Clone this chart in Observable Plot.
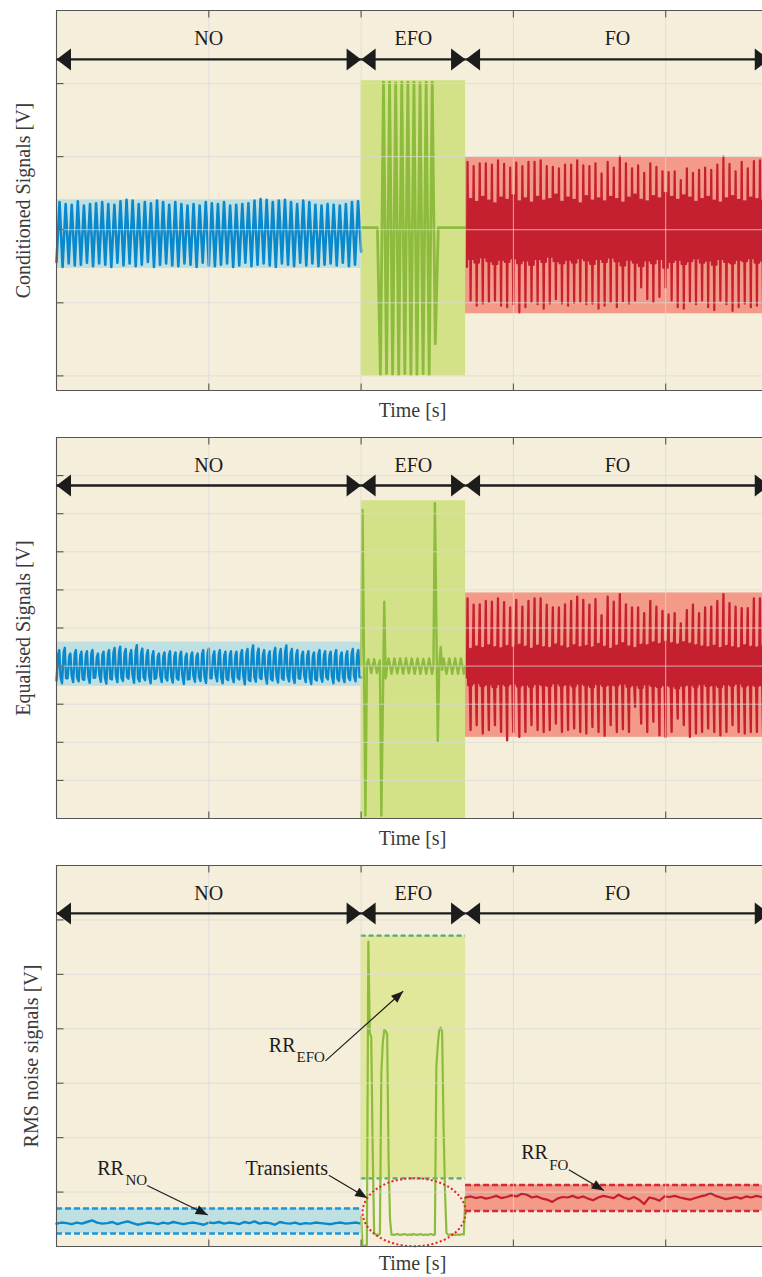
<!DOCTYPE html>
<html><head><meta charset="utf-8">
<script src="https://cdn.jsdelivr.net/npm/d3@7"></script>
<script src="https://cdn.jsdelivr.net/npm/@observablehq/plot@0.6"></script>
<style>
html,body{margin:0;padding:0;background:#fff;overflow:hidden;}
#chart{width:762px;}
#chart svg{display:block;overflow:hidden;}
</style></head><body><div id="chart"></div>
<script>
// ---------------- DATA ----------------
const phaseNames = ["NO", "EFO", "FO"];
const phaseStart = [0, 2.0, 2.686];
const phaseEnd = [2.0, 2.686, 5.0];
const arrowEnd = [2.0, 2.686, 4.68];
const xTicks = [1, 2, 3, 4];

// Panel 1 : conditioned signals
const condDomain = [-2.2, 3];
const condTicks = [-2, -1, 0, 1, 2];
const condBandLo = [-0.53, -2.0, -1.15];
const condBandHi = [0.41, 2.04, 0.99];
const condArrowY = 2.33, condLabelY = 2.61;
const condNoPeaks = [0.38,0.35,0.34,0.39,0.33,0.35,0.36,0.38,0.35,0.34,0.39,0.41,0.40,0.35,0.38,0.36,0.40,0.38,0.34,0.38,0.35,0.33,0.35,0.33,0.38,0.36,0.35,0.38,0.33,0.34,0.35,0.36,0.40,0.42,0.41,0.38,0.40,0.41,0.38,0.35,0.40,0.38,0.34,0.33,0.35,0.34,0.33,0.35,0.38,0.39];
const condNoTroughs = [-0.44,-0.51,-0.46,-0.49,-0.48,-0.45,-0.50,-0.46,-0.48,-0.51,-0.45,-0.49,-0.46,-0.50,-0.48,-0.44,-0.51,-0.48,-0.46,-0.49,-0.50,-0.46,-0.48,-0.51,-0.45,-0.49,-0.50,-0.48,-0.46,-0.51,-0.49,-0.45,-0.50,-0.48,-0.46,-0.49,-0.51,-0.46,-0.48,-0.50,-0.45,-0.49,-0.46,-0.50,-0.48,-0.46,-0.49,-0.45,-0.50,-0.48,-0.30];
const condEfoV = [0.03,0.03,0.03,0.03,0.03,0.03,-1.98,2.02,-1.97,2.02,-1.98,2.01,-1.98,2.02,-1.97,2.02,-1.98,2.02,-1.98,2.01,-1.97,2.02,-1.98,2.02,-1.56,0.03,0.03,0.03,0.03,0.03,0.03,0.03,0.03,0.03,0.03];
const condFoStart = -0.51;
const condFoPeaks = [0.93,0.87,0.91,0.91,0.89,0.95,0.90,0.85,0.92,0.87,0.93,0.93,0.95,0.87,0.86,0.84,0.89,0.89,0.95,0.88,0.87,0.91,0.77,0.93,0.85,1.00,0.91,0.84,0.88,0.78,0.91,0.86,0.80,0.79,0.80,0.68,0.84,0.78,0.82,0.85,0.82,0.89,1.00,0.90,0.80,0.93,0.84,0.94,0.95];
const condFoTroughs = [-0.97,-1.04,-1.01,-0.99,-0.97,-1.04,-1.06,-1.02,-1.13,-1.06,-0.99,-1.02,-1.08,-1.01,-0.95,-1.01,-1.04,-1.00,-0.99,-1.02,-1.01,-1.08,-1.04,-0.99,-1.06,-0.98,-1.01,-0.97,-0.79,-0.95,-0.99,-0.92,-0.79,-0.97,-1.06,-1.08,-0.99,-1.02,-0.97,-1.06,-1.10,-0.97,-1.02,-1.11,-1.06,-1.01,-1.06,-1.04,-1.06];
const condFoCoreHi = [0.42,0.38,0.45,0.40,0.36,0.44,0.41,0.47,0.39,0.43,0.37,0.45,0.40,0.42,0.48,0.38,0.44,0.41,0.36,0.46,0.40,0.43,0.39,0.45,0.42,0.37,0.44,0.48,0.41,0.39,0.46,0.43,0.50,0.45,0.41,0.47,0.44,0.38,0.42,0.45,0.40,0.37,0.43,0.46,0.41,0.39,0.44,0.42,0.40];
const condFoCoreLo = [-0.40,-0.45,-0.38,-0.43,-0.47,-0.41,-0.44,-0.39,-0.46,-0.42,-0.48,-0.40,-0.44,-0.37,-0.43,-0.46,-0.41,-0.45,-0.39,-0.42,-0.47,-0.40,-0.44,-0.38,-0.43,-0.49,-0.41,-0.45,-0.50,-0.42,-0.46,-0.40,-0.52,-0.44,-0.41,-0.47,-0.43,-0.39,-0.45,-0.42,-0.48,-0.40,-0.44,-0.46,-0.41,-0.43,-0.39,-0.45,-0.42];

// Panel 2 : equalised signals
const eqDomain = [-4, 6];
const eqTicks = [-3, -2, -1, 0, 1, 2, 3, 4, 5];
const eqBandLo = [-0.53, -4.0, -1.87];
const eqBandHi = [0.63, 4.34, 1.92];
const eqArrowY = 4.74, eqLabelY = 5.26;
const eqNoPeaks = [0.42,0.48,0.33,0.42,0.38,0.39,0.42,0.33,0.38,0.42,0.48,0.51,0.45,0.42,0.55,0.46,0.42,0.39,0.33,0.36,0.39,0.36,0.38,0.33,0.36,0.33,0.42,0.46,0.39,0.42,0.38,0.39,0.38,0.42,0.45,0.54,0.46,0.42,0.39,0.48,0.45,0.54,0.45,0.42,0.38,0.39,0.36,0.42,0.39,0.38,0.42,0.36,0.39,0.45,0.42];
const eqNoTroughs = [-0.38,-0.45,-0.32,-0.42,-0.40,-0.36,-0.44,-0.30,-0.41,-0.46,-0.35,-0.42,-0.39,-0.33,-0.44,-0.40,-0.37,-0.45,-0.31,-0.42,-0.38,-0.43,-0.36,-0.47,-0.34,-0.41,-0.39,-0.44,-0.32,-0.40,-0.45,-0.37,-0.42,-0.35,-0.48,-0.39,-0.41,-0.34,-0.46,-0.38,-0.43,-0.36,-0.40,-0.44,-0.33,-0.42,-0.47,-0.38,-0.41,-0.35,-0.45,-0.39,-0.42,-0.37,-0.40,-0.30];
const eqNoMidLo = [-0.28,-0.32,-0.24,-0.30,-0.34,-0.26,-0.31,-0.22,-0.29,-0.33,-0.25,-0.30,-0.28,-0.23,-0.32,-0.29,-0.26,-0.34,-0.24,-0.30,-0.27,-0.31,-0.25,-0.35,-0.26,-0.29,-0.28,-0.32,-0.23,-0.29,-0.33,-0.27,-0.30,-0.25,-0.36,-0.28,-0.30,-0.24,-0.33,-0.27,-0.31,-0.26,-0.29,-0.32,-0.24,-0.30,-0.34,-0.27,-0.29,-0.25,-0.32,-0.28,-0.30,-0.26,-0.29];
const eqNoMidHi = [0.30,0.36,0.26,0.32,0.28,0.29,0.34,0.25,0.30,0.33,0.37,0.39,0.34,0.31,0.40,0.35,0.30,0.28,0.25,0.27,0.29,0.26,0.28,0.24,0.27,0.26,0.32,0.35,0.29,0.31,0.28,0.29,0.28,0.32,0.34,0.39,0.35,0.31,0.29,0.36,0.33,0.39,0.34,0.31,0.28,0.29,0.27,0.32,0.29,0.28,0.31,0.27,0.29,0.33,0.31];
const eqEfoV = [0.0,4.10,0.10,-3.92,0.05,0.18,0.0,-0.18,0.0,0.18,0.0,-0.18,0.0,0.15,-3.92,-1.10,1.69,-0.32,0.0,0.20,0.02,-0.20,-0.02,0.20,0.0,-0.19,0.0,0.20,0.01,-0.20,0.0,0.21,0.0,-0.19,0.0,0.20,0.0,-0.20,0.0,0.20,0.0,-0.20,0.0,0.19,0.0,-0.20,0.0,0.20,0.0,-0.20,0.0,4.28,1.15,-1.97,0.0,0.50,-0.10,0.20,0.0,-0.20,0.0,0.20,0.0,-0.20,0.0,0.20,0.0,-0.20,0.0,0.20,0.0,-0.20,0.0];
const eqFoStart = -0.30;
const eqFoPeaks = [1.78,1.61,1.62,1.71,1.69,1.78,1.68,1.54,1.74,1.56,1.71,1.78,1.78,1.61,1.54,1.54,1.62,1.71,1.82,1.74,1.61,1.76,1.34,1.82,1.69,1.89,1.62,1.54,1.54,1.39,1.71,1.56,1.45,1.36,1.39,1.12,1.47,1.61,1.39,1.54,1.56,1.71,1.89,1.65,1.56,1.52,1.52,1.78,1.78];
const eqFoTroughs = [-1.68,-1.55,-1.77,-1.68,-1.55,-1.73,-1.95,-1.73,-1.86,-1.73,-1.55,-1.68,-1.73,-1.68,-1.51,-1.73,-1.68,-1.64,-1.73,-1.77,-1.60,-1.73,-1.83,-1.55,-1.73,-1.66,-1.73,-1.07,-1.51,-1.73,-1.46,-1.82,-1.86,-1.73,-1.38,-1.55,-1.86,-1.77,-1.73,-1.64,-1.73,-1.82,-1.73,-1.55,-1.73,-1.77,-1.73,-1.73,-1.73];
const eqFoCoreHi = [0.45,0.52,0.48,0.55,0.50,0.47,0.53,0.49,0.56,0.51,0.46,0.54,0.50,0.48,0.57,0.52,0.47,0.55,0.50,0.53,0.49,0.58,0.51,0.46,0.54,0.60,0.52,0.48,0.56,0.55,0.62,0.58,0.64,0.60,0.57,0.63,0.59,0.55,0.52,0.50,0.54,0.48,0.53,0.50,0.47,0.55,0.51,0.49,0.52];
const eqFoCoreLo = [-0.50,-0.45,-0.52,-0.48,-0.55,-0.47,-0.51,-0.46,-0.53,-0.49,-0.54,-0.47,-0.50,-0.52,-0.45,-0.51,-0.48,-0.53,-0.46,-0.50,-0.55,-0.47,-0.52,-0.49,-0.51,-0.46,-0.54,-0.50,-0.57,-0.48,-0.52,-0.55,-0.50,-0.53,-0.58,-0.51,-0.49,-0.54,-0.47,-0.52,-0.50,-0.55,-0.48,-0.51,-0.46,-0.53,-0.49,-0.52,-0.50];

// Panel 3 : RMS noise signals
const rmsDomain = [0, 7];
const rmsTicks = [1, 2, 3, 4, 5, 6];
const rmsBandLo = [0.24, 1.25, 0.65];
const rmsBandHi = [0.70, 5.71, 1.13];
const rmsArrowY = 6.12, rmsLabelY = 6.49;
const rmsNo = [0.42,0.44,0.43,0.41,0.44,0.42,0.45,0.48,0.44,0.42,0.43,0.45,0.41,0.44,0.46,0.43,0.40,0.42,0.44,0.43,0.41,0.44,0.42,0.45,0.43,0.41,0.43,0.44,0.42,0.40,0.44,0.43,0.45,0.42,0.44,0.43,0.41,0.45,0.43,0.46,0.42,0.44,0.43,0.40,0.45,0.43,0.42,0.44,0.41,0.43,0.42,0.44,0.43,0.42,0.41,0.43,0.44,0.42,0.43,0.44,0.42];
const rmsEfo = [0.55,0.02,0.01,0.02,0.03,5.60,3.92,3.85,1.80,0.25,0.22,0.22,0.21,0.23,3.20,3.75,3.98,3.96,3.90,1.60,0.50,0.22,
  0.22,0.21,0.22,0.23,0.22,0.21,0.22,0.22,0.23,0.22,0.21,0.22,0.22,0.21,0.23,0.22,0.22,0.21,0.22,0.23,0.22,0.21,0.22,0.22,0.21,0.22,0.23,0.22,0.21,0.22,
  3.30,3.70,3.98,4.02,3.95,2.20,1.00,0.25,
  0.22,0.21,0.22,0.23,0.22,0.21,0.22,0.22,0.21,0.22,0.23,0.22,0.90];
const rmsFo = [0.90,0.92,0.89,0.91,0.88,0.90,0.93,0.89,0.91,0.94,0.92,0.97,0.95,0.90,0.92,0.88,0.86,0.82,0.88,0.91,0.90,0.93,0.89,0.92,0.88,0.85,0.90,0.93,0.91,0.89,0.95,0.90,0.87,0.91,0.86,0.78,0.90,0.88,0.84,0.92,0.91,0.93,0.90,0.88,0.86,0.89,0.92,0.94,0.98,0.93,0.90,0.87,0.89,0.91,0.88,0.92,0.90,0.93,0.91,0.90];

// Annotations (panel 3)
const annLabels = ["RR", "Transients", "RR", "RR"];
const annX = [0.267, 1.241, 1.394, 3.051];
const annY = [1.43, 1.44, 3.69, 1.73];
const annSubs = ["NO", "EFO", "FO"];
const annSubX = [0.453, 1.576, 3.235];
const annSubY = [1.21, 3.48, 1.50];
const annArrowX1 = [0.595, 1.788, 1.766, 3.364];
const annArrowY1 = [1.12, 1.31, 3.41, 1.41];
const annArrowX2 = [0.993, 2.040, 2.276, 3.594];
const annArrowY2 = [0.58, 0.89, 4.69, 1.03];
const ellipseX = [2.348], ellipseY = [0.63];

// ---------------- STYLE ----------------
const FONT = "'Liberation Serif','Times New Roman',Times,serif";
const BG = "#f5eedb";
const BLUE = "#0a88cc", GREEN = "#8dbb3e", RED = "#c4202f";
const BAND = ["#bfe0e2", "#d3e189", "#f39a89"];
const BAND3 = ["#bfe0e2", "#e2e89b", "#f39a89"];
const DASH = ["#1898dc", "#58a77c", "#d8283a"];
const X_RANGE = [56, 817.5];
const kx = (X_RANGE[1] - X_RANGE[0]) / 5;

// ---------------- BUILD SERIES ----------------
// one entry per cycle taken from each list, placed at the given fraction of the cycle
function cycles(t0, period, first, lists, fracs) {
  const out = [];
  const n = lists[0].length, m = lists.length;
  const f = fracs || lists.map((_, j) => j / m);
  for (let i = 0; i < n; i++) {
    for (let j = 0; j < m; j++) {
      if (lists[j][i] !== undefined) out.push({t: t0 + (i + f[j]) * period, v: lists[j][i]});
    }
  }
  if (first !== null) out.unshift({t: t0 - 0.1 * period, v: first});
  return out;
}
function uniform(t0, dt, vals) { return vals.map((v, i) => ({t: t0 + i * dt, v})); }

// ---------------- SYMBOLS ----------------
const headRight = {draw(c) { c.moveTo(0, 0); c.lineTo(-14.5, -11); c.lineTo(-14.5, 11); c.closePath(); }};
const headLeft = {draw(c) { c.moveTo(0, 0); c.lineTo(14.5, -11); c.lineTo(14.5, 11); c.closePath(); }};
const tickRight = {draw(c) { c.moveTo(0, 0); c.lineTo(7, 0); }};
const tickUp = {draw(c) { c.moveTo(0, 0); c.lineTo(0, -7); }};
const tickDown = {draw(c) { c.moveTo(0, 0); c.lineTo(0, 7); }};
function headAt(angle) {
  const L = 12, W = 4.8, ux = Math.cos(angle), uy = Math.sin(angle);
  return {draw(c) {
    c.moveTo(0, 0);
    c.lineTo(-L * ux - W * uy, -L * uy + W * ux);
    c.lineTo(-L * ux + W * uy, -L * uy - W * ux);
    c.closePath();
  }};
}
const ellipseSym = {draw(c) {
  const rx = 51.5, ry = 34, k = 0.5523;
  c.moveTo(rx, 0);
  c.bezierCurveTo(rx, k * ry, k * rx, ry, 0, ry);
  c.bezierCurveTo(-k * rx, ry, -rx, k * ry, -rx, 0);
  c.bezierCurveTo(-rx, -k * ry, -k * rx, -ry, 0, -ry);
  c.bezierCurveTo(k * rx, -ry, rx, -k * ry, rx, 0);
  c.closePath();
}};

// ---------------- PANEL ----------------
function panel(cfg) {
  const {height, marginBottom, yDomain, yTicks, bandLo, bandHi, bandFill, series, arrowY, labelY, ylabel, ylabelDx, xlabelDy, under = [], over = []} = cfg;
  const idx = [0, 1, 2];
  const marks = [Plot.frame({fill: BG, stroke: null})];
  for (const i of idx) {
    marks.push(Plot.rect([i], {x1: phaseStart[i], x2: phaseEnd[i], y1: bandLo[i], y2: bandHi[i], fill: bandFill[i]}));
  }
  marks.push(...under);
  for (const s of series) {
    marks.push(Plot.line(s.data, {x: "t", y: "v", stroke: s.color, strokeWidth: s.width, strokeLinejoin: "round", strokeLinecap: "round"}));
  }
  // grid on top
  marks.push(Plot.ruleX(xTicks, {x: d => d, stroke: "#d9d9d9", strokeOpacity: 0.75}));
  marks.push(Plot.ruleY(yTicks, {y: d => d, stroke: "#d9d9d9", strokeOpacity: 0.75}));
  marks.push(...over);
  // axes box
  marks.push(Plot.ruleY([yDomain[1], yDomain[0]], {y: d => d, stroke: "#555", strokeWidth: 1.1}));
  marks.push(Plot.ruleX([0], {x: d => d, stroke: "#555", strokeWidth: 1.1}));
  marks.push(Plot.dot(yTicks, {y: d => d, frameAnchor: "left", symbol: tickRight, stroke: "#555", fill: "none", strokeWidth: 1.1}));
  marks.push(Plot.dot(xTicks, {x: d => d, frameAnchor: "bottom", symbol: tickUp, stroke: "#555", fill: "none", strokeWidth: 1.1}));
  marks.push(Plot.dot(xTicks, {x: d => d, frameAnchor: "top", symbol: tickDown, stroke: "#555", fill: "none", strokeWidth: 1.1}));
  // phase arrows
  marks.push(Plot.link(idx, {x1: i => phaseStart[i], x2: i => arrowEnd[i], y1: arrowY, y2: arrowY, stroke: "#1c1c1c", strokeWidth: 2.3}));
  marks.push(Plot.dot(idx, {x: i => phaseStart[i], y: arrowY, symbol: headLeft, fill: "#1c1c1c", stroke: "none"}));
  marks.push(Plot.dot(idx, {x: i => arrowEnd[i], y: arrowY, symbol: headRight, fill: "#1c1c1c", stroke: "none"}));
  marks.push(Plot.text(idx, {x: i => (phaseStart[i] + arrowEnd[i]) / 2, y: labelY, text: i => phaseNames[i], fontSize: 20, fill: "#1c1c1c", lineAnchor: "middle"}));
  // axis labels
  marks.push(Plot.text(["Time [s]"], {frameAnchor: "bottom", text: d => d, dx: 3, dy: xlabelDy, fontSize: 20, fill: "#3a3a3a", lineAnchor: "middle"}));
  marks.push(Plot.text([ylabel], {frameAnchor: "left", text: d => d, dx: ylabelDx, rotate: -90, fontSize: 20, fill: "#3a3a3a", lineAnchor: "middle", textAnchor: "middle"}));
  return Plot.plot({
    width: 762, height, marginLeft: 56, marginRight: 0, marginTop: 10, marginBottom,
    x: {domain: [0, 5], range: X_RANGE, axis: null},
    y: {domain: yDomain, axis: null},
    style: {fontFamily: FONT, background: "white", overflow: "hidden"},
    marks
  });
}

// ---------------- PANEL 1 ----------------
const p1 = panel({
  height: 427, marginBottom: 37, yDomain: condDomain, yTicks: condTicks,
  bandLo: condBandLo, bandHi: condBandHi, bandFill: BAND,
  series: [
    {data: cycles(0, 0.04, null, [condNoTroughs, condNoPeaks]), color: BLUE, width: 2.6},
    {data: uniform(2.007, 0.02, condEfoV), color: GREEN, width: 2.8},
    {data: cycles(2.699, 0.04, condFoStart,
      [condFoPeaks, condFoCoreLo, condFoCoreHi, condFoTroughs, condFoCoreHi, condFoCoreLo],
      [0, 0.13, 0.36, 0.5, 0.63, 0.86]), color: RED, width: 2.2}
  ],
  arrowY: condArrowY, labelY: condLabelY, ylabel: "Conditioned Signals [V]", ylabelDx: -33, xlabelDy: 20.5
});

// ---------------- PANEL 2 ----------------
const p2 = panel({
  height: 428, marginBottom: 37, yDomain: eqDomain, yTicks: eqTicks,
  bandLo: eqBandLo, bandHi: eqBandHi, bandFill: BAND,
  series: [
    {data: cycles(0, 2.0 / 55, null, [eqNoTroughs, eqNoMidHi, eqNoPeaks, eqNoMidLo], [0, 0.3, 0.5, 0.72]), color: BLUE, width: 2.4},
    {data: uniform(2.0, 0.0095, eqEfoV), color: GREEN, width: 2.4},
    {data: cycles(2.699, 0.04, eqFoStart,
      [eqFoPeaks, eqFoCoreLo, eqFoCoreHi, eqFoCoreLo, eqFoTroughs, eqFoCoreHi, eqFoCoreLo, eqFoCoreHi],
      [0, 0.1, 0.22, 0.36, 0.5, 0.6, 0.74, 0.88]), color: RED, width: 2.3}
  ],
  arrowY: eqArrowY, labelY: eqLabelY, ylabel: "Equalised Signals [V]", ylabelDx: -33, xlabelDy: 20
});

// ---------------- PANEL 3 ----------------
const H3 = 422, MB3 = 31;
const ky3 = (H3 - MB3 - 10) / (rmsDomain[1] - rmsDomain[0]);
const dashMarks = [];
for (const i of [0, 1, 2]) {
  dashMarks.push(Plot.ruleY([rmsBandLo[i], rmsBandHi[i]], {y: d => d, x1: phaseStart[i], x2: phaseEnd[i], stroke: DASH[i], strokeWidth: i === 1 ? 2.2 : 2.5, strokeDasharray: i === 1 ? "5,3" : "6,3"}));
}
const annMarks = [];
annMarks.push(Plot.link([0, 1, 2, 3], {x1: i => annArrowX1[i], y1: i => annArrowY1[i], x2: i => annArrowX2[i], y2: i => annArrowY2[i], stroke: "#1c1c1c", strokeWidth: 1.2}));
for (let i = 0; i < 4; i++) {
  const ang = Math.atan2(-(annArrowY2[i] - annArrowY1[i]) * ky3, (annArrowX2[i] - annArrowX1[i]) * kx);
  annMarks.push(Plot.dot([i], {x: annArrowX2[i], y: annArrowY2[i], symbol: headAt(ang), fill: "#1c1c1c", stroke: "none"}));
}
annMarks.push(Plot.text([0, 1, 2, 3], {x: i => annX[i], y: i => annY[i], text: i => annLabels[i], fontSize: 20, fill: "#1c1c1c", textAnchor: "start", lineAnchor: "middle"}));
annMarks.push(Plot.text([0, 1, 2], {x: i => annSubX[i], y: i => annSubY[i], text: i => annSubs[i], fontSize: 15, fill: "#1c1c1c", textAnchor: "start", lineAnchor: "middle"}));
annMarks.push(Plot.dot([0], {x: ellipseX[0], y: ellipseY[0], symbol: ellipseSym, fill: "none", stroke: "#e8202a", strokeWidth: 2, strokeDasharray: "2,2.4"}));

const p3 = panel({
  height: H3, marginBottom: MB3, yDomain: rmsDomain, yTicks: rmsTicks,
  bandLo: rmsBandLo, bandHi: rmsBandHi, bandFill: BAND3,
  series: [
    {data: uniform(0, 2.0 / 60, rmsNo), color: BLUE, width: 2.4},
    {data: uniform(2.0, 0.0095, rmsEfo), color: GREEN, width: 2.2},
    {data: uniform(phaseStart[2], 0.0335, rmsFo), color: RED, width: 2.2}
  ],
  under: dashMarks,
  over: annMarks,
  arrowY: rmsArrowY, labelY: rmsLabelY, ylabel: "RMS noise signals [V]", ylabelDx: -25, xlabelDy: 17
});

const chart = document.getElementById("chart");
chart.append(p1, p2, p3);
</script>
</body></html>
